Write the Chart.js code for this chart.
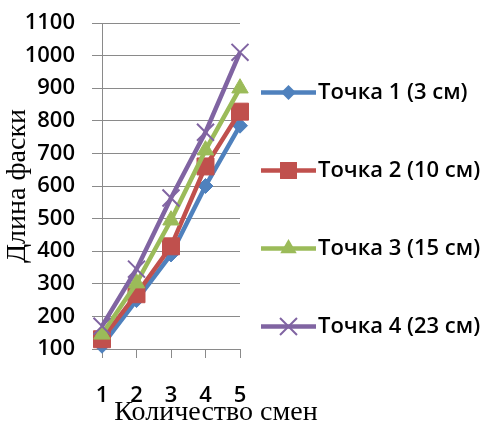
<!DOCTYPE html>
<html>
<head>
<meta charset="utf-8">
<script src="https://cdn.jsdelivr.net/npm/chart.js@4/dist/chart.umd.min.js"></script>
<style>
  html, body { margin: 0; padding: 0; background: #ffffff; }
  #wrap { width: 491px; height: 421px; }
</style>
</head>
<body>
<div id="wrap"><canvas id="c" width="491" height="421"></canvas></div>
<script>
// Number of shifts (x categories)
const shifts = ['1', '2', '3', '4', '5'];

// Chamfer length at each measuring point
const point1 = [110, 250, 390, 600, 785];
const point2 = [130, 268, 415, 660, 828];
const point3 = [145, 302, 495, 710, 900];
const point4 = [170, 345, 563, 765, 1010];

const seriesNames = ['Точка 1 (3 см)', 'Точка 2 (10 см)', 'Точка 3 (15 см)', 'Точка 4 (23 см)'];
const yMin = 100, yMax = 1100, yStep = 100;
const xTitle = 'Количество смен';
const yTitle = 'Длина фаски';

const colors = ['#4F81BD', '#C0504D', '#9BBB59', '#8064A2'];
const styles = [
  { pointStyle: 'rectRot', radius: 7.5, border: 1 },
  { pointStyle: 'rect', radius: 12, border: 1 },
  { pointStyle: 'triangle', radius: 9.5, border: 1 },
  { pointStyle: 'crossRot', radius: 12, border: 2 }
];
const seriesData = [point1, point2, point3, point4];

const tickFont = { family: '"Open Sans"', size: 22, weight: '600' };
const titleFont = '28px "Liberation Serif"';
const gridColor = '#8a8a8a';

const datasets = seriesData.map((d, i) => ({
  label: seriesNames[i],
  data: d,
  borderColor: colors[i],
  backgroundColor: colors[i],
  borderWidth: 4.5,
  tension: 0,
  pointStyle: styles[i].pointStyle,
  pointRadius: styles[i].radius,
  pointBackgroundColor: colors[i],
  pointBorderColor: colors[i],
  pointBorderWidth: styles[i].border,
  order: seriesData.length - i,
  clip: false
}));

// Draws a legend marker with the same shapes used on the lines
function drawMarker(ctx, style, x, y, r, color, lw) {
  ctx.save();
  ctx.fillStyle = color;
  ctx.strokeStyle = color;
  ctx.lineWidth = lw;
  ctx.beginPath();
  if (style === 'rectRot') {
    ctx.moveTo(x, y - r); ctx.lineTo(x + r, y); ctx.lineTo(x, y + r); ctx.lineTo(x - r, y); ctx.closePath();
    ctx.fill();
  } else if (style === 'rect') {
    const s = r * Math.SQRT1_2;
    ctx.rect(x - s, y - s, 2 * s, 2 * s);
    ctx.fill();
  } else if (style === 'triangle') {
    ctx.moveTo(x, y - r);
    ctx.lineTo(x + r * 0.866, y + r * 0.5);
    ctx.lineTo(x - r * 0.866, y + r * 0.5);
    ctx.closePath();
    ctx.fill();
  } else if (style === 'crossRot') {
    const o = r * Math.SQRT1_2;
    ctx.moveTo(x - o, y - o); ctx.lineTo(x + o, y + o);
    ctx.moveTo(x + o, y - o); ctx.lineTo(x - o, y + o);
    ctx.stroke();
  }
  ctx.restore();
}

const sideLegend = {
  id: 'sideLegend',
  afterDraw(chart) {
    const ctx = chart.ctx;
    const area = chart.chartArea;
    const cy = chart.height / 2;
    const gap = 78;
    const x0 = area.right + 21;
    const lineLen = 55;
    chart.data.datasets.forEach((ds, i) => {
      const y = cy + (i - (chart.data.datasets.length - 1) / 2) * gap - 1;
      ctx.save();
      ctx.strokeStyle = ds.borderColor;
      ctx.lineWidth = 4.5;
      ctx.beginPath();
      ctx.moveTo(x0, y);
      ctx.lineTo(x0 + lineLen, y);
      ctx.stroke();
      drawMarker(ctx, styles[i].pointStyle, x0 + lineLen / 2, y, styles[i].radius, ds.borderColor, styles[i].border);
      ctx.fillStyle = '#000';
      ctx.font = `${tickFont.weight} ${tickFont.size}px ${tickFont.family}`;
      ctx.textAlign = 'left';
      ctx.textBaseline = 'middle';
      ctx.fillText(ds.label, x0 + lineLen + 2, y);
      ctx.restore();
    });
  }
};

const axisTitles = {
  id: 'axisTitles',
  afterDraw(chart) {
    const ctx = chart.ctx;
    const area = chart.chartArea;
    ctx.save();
    ctx.fillStyle = '#000';
    ctx.font = titleFont;
    ctx.textAlign = 'center';
    ctx.textBaseline = 'alphabetic';
    ctx.fillText(xTitle, area.right - 24, chart.height - 1);
    ctx.translate(25, (area.top + area.bottom) / 2);
    ctx.rotate(-Math.PI / 2);
    ctx.fillText(yTitle, 0, 0);
    ctx.restore();
  }
};

new Chart(document.getElementById('c'), {
  type: 'line',
  data: { labels: shifts, datasets },
  options: {
    responsive: false,
    animation: false,
    devicePixelRatio: 1,
    layout: { padding: { top: 23, right: 251, bottom: 0, left: 0 } },
    plugins: { legend: { display: false }, tooltip: { enabled: false } },
    scales: {
      x: {
        type: 'category',
        offset: false,
        grid: { drawOnChartArea: false, drawTicks: true, tickLength: 9, color: gridColor },
        border: { display: true, color: gridColor },
        ticks: { font: tickFont, color: '#000', padding: 25, maxRotation: 0 },
        afterFit(s) { s.height = 72; s.paddingLeft = 0; s.paddingRight = 0; }
      },
      y: {
        min: yMin, max: yMax,
        grid: { color: gridColor, tickLength: 10, drawTicks: true },
        border: { display: true, color: gridColor },
        ticks: { stepSize: yStep, font: tickFont, color: '#000', padding: 17, callback: v => String(v) },
        afterFit(s) { s.width = 102; s.paddingTop = 0; s.paddingBottom = 0; }
      }
    }
  },
  plugins: [sideLegend, axisTitles]
});
</script>
</body>
</html>
